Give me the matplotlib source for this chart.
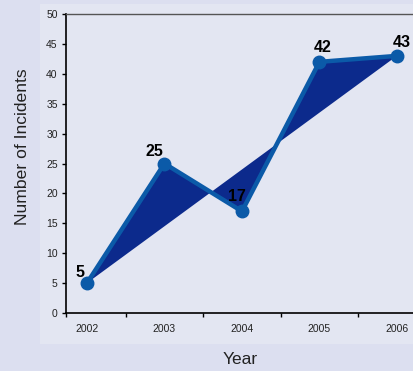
import matplotlib
matplotlib.use("Agg")
import matplotlib.pyplot as plt
from matplotlib.patches import Rectangle, Polygon
import numpy as np

plt.rcParams['font.family'] = ['Liberation Sans', 'DejaVu Sans']

years = ["2002", "2003", "2004", "2005", "2006"]
incidents = [5, 25, 17, 42, 43]
y_ticks = [0, 5, 10, 15, 20, 25, 30, 35, 40, 45, 50]

W, H = 414, 371
fig = plt.figure(figsize=(W / 100, H / 100), dpi=100)
fig.patch.set_facecolor('#dcdff0')

# lighter inner panel behind the chart
fig.patches.append(Rectangle((40 / W, 1 - 344 / H), (W - 40) / W, (344 - 4) / H,
                             transform=fig.transFigure, facecolor='#e3e6f2',
                             edgecolor='none', zorder=-5))

ax = fig.add_axes([66 / W, 1 - 313 / H, (414 - 66) / W, (313 - 14) / H])
ax.set_zorder(2)
ax.set_facecolor('#e3e6f2')

x = np.arange(len(years))
xmin, xmax = -0.27, 4.22
ax.set_xlim(xmin, xmax)
ax.set_ylim(0, 50)

# area enclosed between the trend line and the chord joining the end points
pts = list(zip(x, incidents))
ax.add_patch(Polygon(pts, closed=True, facecolor='#0c2a8c', edgecolor='none', zorder=2))

ax.plot(x, incidents, color='#0b5aa8', lw=3.2, zorder=3, solid_joinstyle='round')
ax.plot(x, incidents, 'o', color='#0b5aa8', ms=9, zorder=4)

# value labels, placed just above each point (offsets in data units)
offsets = [(-0.09, 1.0), (-0.13, 1.2), (-0.06, 1.8), (0.04, 1.7), (0.06, 1.5)]
for xi, v, (dx, dy) in zip(x, incidents, offsets):
    ax.text(xi + dx, v + dy, str(v), ha='center', va='baseline',
            fontsize=11.5, fontweight='bold', color='black', zorder=5)

ax.set_yticks(y_ticks)
ax.set_yticklabels([str(t) for t in y_ticks], fontsize=7.5, color='#222222')
ax.set_xticks([xmin, 0.5, 1.5, 2.5, 3.5])
ax.set_xticklabels([])
ax.set_xticks(x, minor=True)
ax.set_xticklabels(years, minor=True, fontsize=7.5, color='#222222')
ax.tick_params(axis='x', which='minor', length=0, pad=8)
ax.tick_params(axis='x', which='major', length=3, width=1, direction='out')
ax.tick_params(axis='y', length=3, width=1, direction='out', pad=3)

ax.spines['right'].set_visible(False)
ax.spines['top'].set_color('#555555')
ax.spines['top'].set_linewidth(1)
ax.spines['left'].set_linewidth(1.2)
ax.spines['bottom'].set_linewidth(1.2)

fig.text(23 / W, 1 - 147 / H, 'Number of Incidents', rotation=90,
         ha='center', va='center', fontsize=12.6, color='#222222')
fig.text(240 / W, 1 - 360 / H, 'Year', ha='center', va='center',
         fontsize=12.5, color='#222222')

fig.savefig('out.png', dpi=100, facecolor=fig.get_facecolor())
